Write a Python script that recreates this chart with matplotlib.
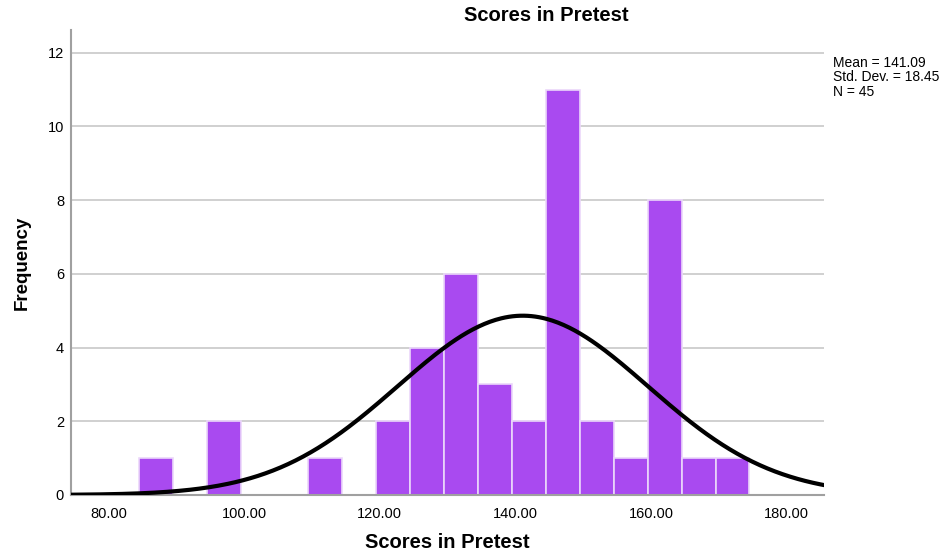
import numpy as np
import matplotlib
matplotlib.use("Agg")
import matplotlib.pyplot as plt

plt.rcParams['font.family'] = ['Liberation Sans', 'DejaVu Sans']

# Data
bin_starts = [84.5, 89.5, 94.5, 99.5, 104.5, 109.5, 114.5, 119.5, 124.5, 129.5,
              134.5, 139.5, 144.5, 149.5, 154.5, 159.5, 164.5, 169.5]
counts = [1, 0, 2, 0, 0, 1, 0, 2, 4, 6, 3, 2, 11, 2, 1, 8, 1, 1]
bin_width = 5
mean = 141.09
std = 18.45
n = 45
xticks = [80, 100, 120, 140, 160, 180]
yticks = [0, 2, 4, 6, 8, 10, 12]

fig = plt.figure(figsize=(9.46, 5.53), dpi=100)
ax = fig.add_axes([0.0751, 0.1049, 0.796, 0.841])

ax.bar(bin_starts, counts, width=bin_width, align='edge', color='#A94AF0',
       edgecolor='#EBD7FA', linewidth=1.2, zorder=2)

xs = np.linspace(74.5, 185.5, 400)
ys = n * bin_width * np.exp(-0.5 * ((xs - mean) / std) ** 2) / (std * np.sqrt(2 * np.pi))
ax.plot(xs, ys, color='black', lw=3, zorder=3, solid_capstyle='round')

ax.set_xlim(74.5, 185.5)
ax.set_ylim(0, 12.62)
ax.set_xticks(xticks)
ax.set_xticklabels([f"{v:.2f}" for v in xticks], fontsize=10.5)
ax.set_yticks(yticks)
ax.set_yticklabels([str(v) for v in yticks], fontsize=10.5)
ax.tick_params(length=0, pad=5)
ax.tick_params(axis='x', pad=9)
ax.yaxis.grid(True, color='#C8C8C8', lw=1.2, zorder=0)
ax.set_axisbelow(True)
for s in ['top', 'right']:
    ax.spines[s].set_visible(False)
for s in ['left', 'bottom']:
    ax.spines[s].set_color('#A0A0A0')
    ax.spines[s].set_linewidth(1.5)

ax.set_xlabel('Scores in Pretest', fontsize=14.5, fontweight='bold', labelpad=8)
ax.set_ylabel('Frequency', fontsize=13.5, fontweight='bold', labelpad=12)
fig.text(0.577, 0.972, 'Scores in Pretest', ha='center', va='center',
         fontsize=14.5, fontweight='bold')
fig.text(0.881, 0.899, f"Mean = {mean:.2f}\nStd. Dev. = {std:.2f}\nN = {n}",
         ha='left', va='top', fontsize=10, linespacing=1.03)

fig.savefig('out.png', dpi=100)
